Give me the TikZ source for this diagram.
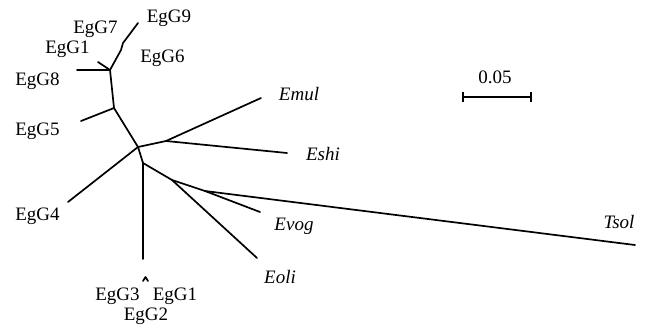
\documentclass[tikz,border=0pt]{standalone}
\usepackage{fontspec}
\setmainfont{Liberation Serif}
\newfontfamily\tmsfont{Liberation Serif}
\begin{document}
\begin{tikzpicture}[x=1pt,y=-1pt,
  branch/.style={line width=1.7pt, line join=round, line cap=round},
  lbl/.style={font=\tmsfont\fontsize{19}{19}\selectfont, anchor=base, inner sep=0pt},
  spc/.style={font=\tmsfont\fontsize{19}{19}\selectfont\itshape, anchor=base, inner sep=0pt}]
\useasboundingbox (0,0) rectangle (652,330);
% internal points and tips
\coordinate (tG9) at (138,23);
\coordinate (k9) at (123,43);
\coordinate (k9b) at (121,50);
\coordinate (T) at (110,70);
\coordinate (tG8) at (77,70);
\coordinate (tG17) at (98,62);
\coordinate (N5) at (114,108);
\coordinate (tG5) at (81,121);
\coordinate (O) at (138,147);
\coordinate (tG4) at (68,202);
\coordinate (M) at (166,141);
\coordinate (tEmul) at (261,98);
\coordinate (tEshi) at (287,153);
\coordinate (B) at (143,163);
\coordinate (tG123) at (143,259);
\coordinate (C) at (172,180);
\coordinate (tEoli) at (257,258);
\coordinate (D) at (205,191);
\coordinate (tEvog) at (260,212);
\coordinate (tTsol) at (635,245);
\coordinate (c1) at (143,281);
\coordinate (c2) at (145.5,277);
\coordinate (c3) at (148,281);
\coordinate (sL) at (463,97);
\coordinate (sR) at (531,97);
% branches
\draw[branch] (tG9) -- (k9) -- (k9b) -- (T);
\draw[branch] (tG8) -- (T);
\draw[branch] (tG17) -- (T);
\draw[branch] (T) -- (N5);
\draw[branch] (tG5) -- (N5);
\draw[branch] (N5) -- (O);
\draw[branch] (O) -- (tG4);
\draw[branch] (O) -- (M);
\draw[branch] (M) -- (tEmul);
\draw[branch] (M) -- (tEshi);
\draw[branch] (O) -- (B);
\draw[branch] (B) -- (tG123);
\draw[branch] (B) -- (C);
\draw[branch] (C) -- (tEoli);
\draw[branch] (C) -- (D);
\draw[branch] (D) -- (tEvog);
\draw[branch] (D) -- (tTsol);
\draw[branch] (c1) -- (c2) -- (c3);
% scale bar
\draw[branch, line cap=butt] (sL) -- (sR);
\draw[branch, line cap=butt] ([yshift=-5pt]sL) -- ([yshift=5pt]sL);
\draw[branch, line cap=butt] ([yshift=-5pt]sR) -- ([yshift=5pt]sR);
\node[lbl] (l005) at (495,83) {0.05};
% labels
\node[lbl] (lG9) at (169,22) {EgG9};
\node[lbl] (lG7) at (95.5,33) {EgG7};
\node[lbl] (lG1a) at (67.5,53) {EgG1};
\node[lbl] (lG6) at (162.5,62) {EgG6};
\node[lbl] (lG8) at (37.5,85) {EgG8};
\node[lbl] (lG5) at (37.5,135) {EgG5};
\node[lbl] (lG4) at (37.5,220) {EgG4};
\node[lbl] (lG3) at (117.5,300) {EgG3};
\node[lbl] (lG1b) at (175,300) {EgG1};
\node[lbl] (lG2) at (146,320) {EgG2};
\node[spc] (lEmul) at (299,100) {Emul};
\node[spc] (lEshi) at (323,160) {Eshi};
\node[spc] (lEvog) at (294,230) {Evog};
\node[spc] (lEoli) at (280,283) {Eoli};
\node[spc] (lTsol) at (619,228) {Tsol};
\end{tikzpicture}
\end{document}
